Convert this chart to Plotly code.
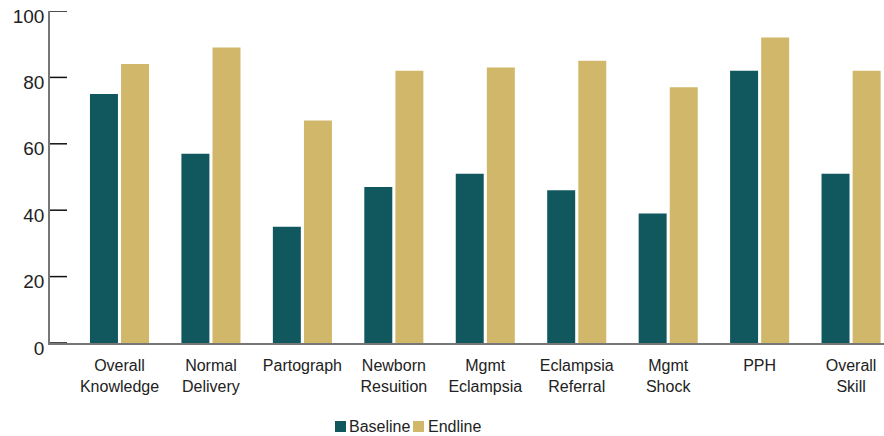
import plotly.graph_objects as go

categories = ["Overall<br>Knowledge", "Normal<br>Delivery", "Partograph", "Newborn<br>Resuition",
              "Mgmt<br>Eclampsia", "Eclampsia<br>Referral", "Mgmt<br>Shock", "PPH", "Overall<br>Skill"]
baseline = [75, 57, 35, 47, 51, 46, 39, 82, 51]
endline = [84, 89, 67, 82, 83, 85, 77, 92, 82]
y_ticks = [0, 20, 40, 60, 80, 100]
series_names = ["Baseline", "Endline"]
series_colors = ["#10575e", "#d1b76a"]

FONT = "Liberation Sans"
TXT = "#222222"

fig = go.Figure()
fig.add_trace(go.Bar(name=series_names[0], x=categories, y=baseline, marker_color=series_colors[0],
                     marker_line_width=0))
fig.add_trace(go.Bar(name=series_names[1], x=categories, y=endline, marker_color=series_colors[1],
                     marker_line_width=0))

# custom compact legend (paper coordinates)
PLOT_L, PLOT_W, PLOT_B, PLOT_H = 50, 834, 343, 332
def px_x(p):
    return (p - PLOT_L) / PLOT_W
def px_y(p):
    return (PLOT_B - p) / PLOT_H

legend_items = [(335, 349), (413, 428)]  # square left px, text left px
for (sq, tx), name, col in zip(legend_items, series_names, series_colors):
    fig.add_shape(type="rect", xref="paper", yref="paper",
                  x0=px_x(sq), x1=px_x(sq + 11), y0=px_y(432), y1=px_y(421),
                  fillcolor=col, line_width=0)
    fig.add_annotation(xref="paper", yref="paper", x=px_x(tx), y=px_y(426.5),
                       xanchor="left", yanchor="middle", text=name, showarrow=False,
                       font=dict(size=16, family=FONT, color=TXT), borderpad=0, xshift=-1)

# inward tick marks on the y axis
for v in y_ticks:
    fig.add_shape(type="line", xref="paper", yref="y", x0=0, x1=17 / PLOT_W, y0=v, y1=v,
                  line=dict(color="#111111", width=1.5), layer="above")

fig.update_layout(
    width=884, height=436,
    margin=dict(l=50, r=0, t=11, b=93, autoexpand=False),
    barmode="group", bargap=0.32, bargroupgap=0.1,
    plot_bgcolor="white", paper_bgcolor="white",
    font=dict(family=FONT, color=TXT),
    showlegend=False,
)
fig.update_xaxes(
    range=[-0.76, 8.36], showline=True, linecolor="#777777", linewidth=1.5,
    ticks="", showgrid=False, tickfont=dict(size=16, family=FONT, color=TXT),
    automargin=False, ticklabelstandoff=7,
)
fig.update_yaxes(
    range=[0, 100], tickvals=y_ticks, showline=True, linecolor="#777777", linewidth=1.5,
    ticks="", showgrid=False, zeroline=False, automargin=False,
    tickfont=dict(size=19, family=FONT, color=TXT),
    ticklabelshift=5, ticklabeloverflow="allow", ticksuffix="\u00a0",
)

fig.write_html("out.html", config={"displayModeBar": False},
               post_script="document.body.style.margin='0';document.body.style.padding='0';")
